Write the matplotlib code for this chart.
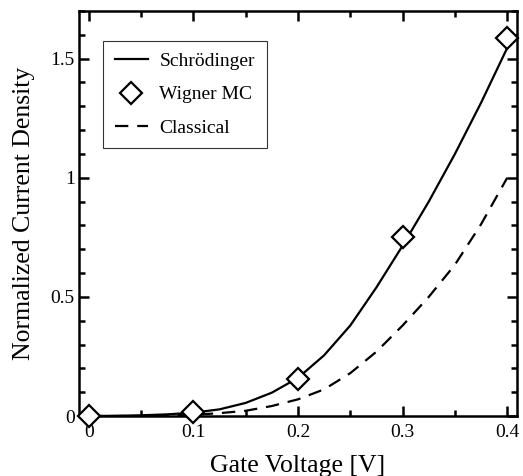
import matplotlib
matplotlib.use("Agg")
import matplotlib.pyplot as plt
from matplotlib.ticker import MultipleLocator, FormatStrFormatter

plt.rcParams['font.family'] = ['Liberation Serif', 'DejaVu Serif']

# Schrodinger curve
schro_v = [0, 0.025, 0.05, 0.075, 0.1, 0.125, 0.15, 0.175, 0.2, 0.225,
           0.25, 0.275, 0.3, 0.325, 0.35, 0.375, 0.4]
schro_j = [0, 0.001, 0.003, 0.007, 0.014, 0.028, 0.055, 0.098, 0.16, 0.255,
           0.38, 0.54, 0.715, 0.9, 1.1, 1.315, 1.545]

# Wigner Monte Carlo points
wigner_v = [0, 0.1, 0.2, 0.3, 0.4]
wigner_j = [0, 0.015, 0.155, 0.75, 1.587]

# Classical curve
class_v = [0, 0.05, 0.1, 0.125, 0.15, 0.175, 0.2, 0.225, 0.25, 0.275,
           0.3, 0.325, 0.35, 0.375, 0.4]
class_j = [0, 0.0, 0.005, 0.012, 0.022, 0.042, 0.07, 0.112, 0.18, 0.27,
           0.38, 0.5, 0.635, 0.805, 1.0]

fig = plt.figure(figsize=(5.23, 4.76), dpi=100)
ax = fig.add_axes([0.151, 0.126, 0.8375, 0.851])

ax.plot(schro_v, schro_j, color='black', lw=1.6, label='Schrödinger')
ax.plot(wigner_v, wigner_j, ls='none', marker='D', ms=11, mfc='white',
        mec='black', mew=1.6, clip_on=False, zorder=5, label='Wigner MC')
ax.plot(class_v, class_j, color='black', lw=1.6, dashes=(6, 4), label='Classical')

ax.set_xlim(-0.0093, 0.4093)
ax.set_ylim(0, 1.7)

ax.xaxis.set_major_locator(MultipleLocator(0.1))
ax.xaxis.set_minor_locator(MultipleLocator(0.05))
ax.yaxis.set_major_locator(MultipleLocator(0.5))
ax.yaxis.set_minor_locator(MultipleLocator(0.1))
ax.xaxis.set_major_formatter(FormatStrFormatter('%g'))
ax.yaxis.set_major_formatter(FormatStrFormatter('%g'))

ax.tick_params(which='both', direction='in', top=True, right=True, width=1.8)
ax.tick_params(which='major', length=7, labelsize=14)
ax.tick_params(which='minor', length=4)
ax.tick_params(axis='x', pad=6)
ax.tick_params(axis='y', pad=3)
for s in ax.spines.values():
    s.set_linewidth(1.8)

ax.set_xlabel('Gate Voltage [V]', fontsize=18.5, labelpad=10)
ax.set_ylabel('Normalized Current Density', fontsize=18.5, labelpad=11)

leg = ax.legend(loc='upper left', bbox_to_anchor=(0.055, 0.926), borderaxespad=0,
                fontsize=14, frameon=True, fancybox=False, handlelength=1.7,
                handletextpad=0.6, labelspacing=0.8, borderpad=0.6)
leg.get_frame().set_edgecolor('black')
leg.get_frame().set_linewidth(0.8)

fig.savefig('out.png', dpi=100)
